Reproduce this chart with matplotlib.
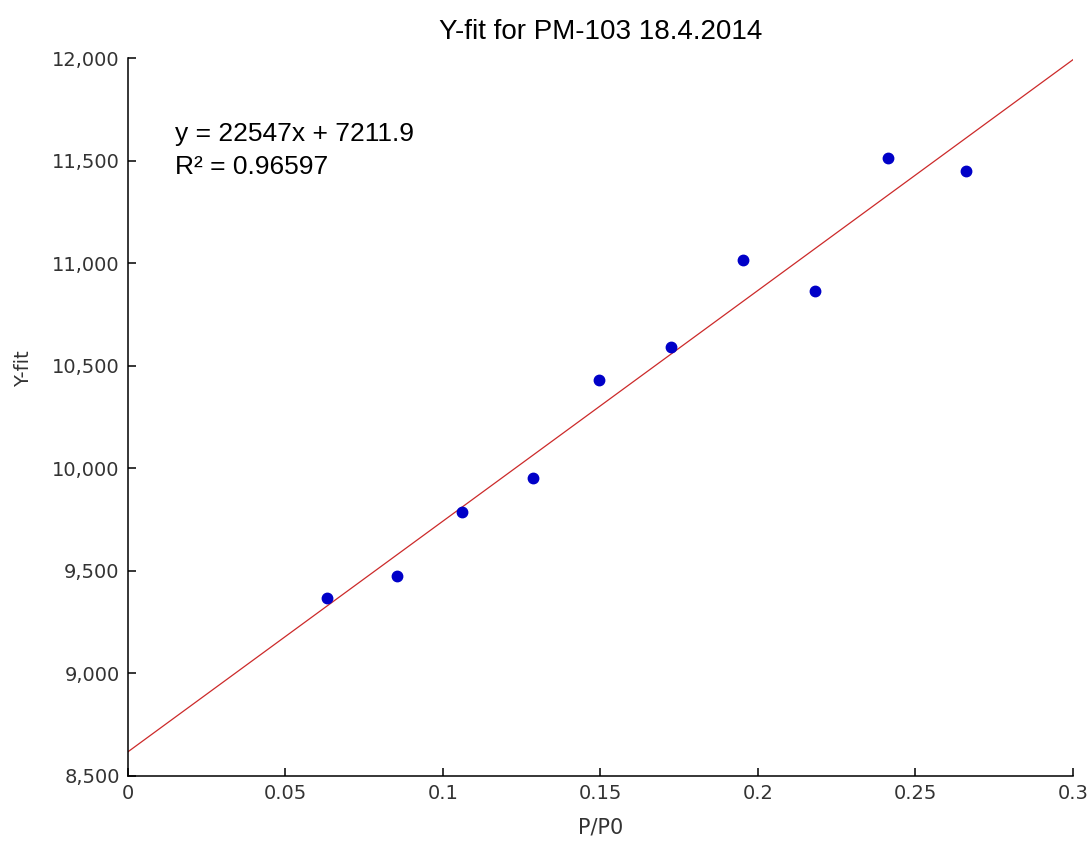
import matplotlib
matplotlib.use("Agg")
import matplotlib.pyplot as plt
from matplotlib.ticker import FuncFormatter

# data
p_p0 = [0.0632, 0.0853, 0.1059, 0.1287, 0.1495, 0.1723, 0.1951, 0.2181, 0.2412, 0.2660]
y_fit = [9369, 9475, 9788, 9954, 10430, 10590, 11014, 10864, 11513, 11451]

# red trend line as drawn (end points)
line_x = [0.0, 0.3]
line_y = [8618, 11992]

x_ticks = [0, 0.05, 0.1, 0.15, 0.2, 0.25, 0.3]
y_ticks = [8500, 9000, 9500, 10000, 10500, 11000, 11500, 12000]

eq_text = "y = 22547x + 7211.9"
r2_text = "R\u00b2 = 0.96597"

fig = plt.figure(figsize=(10.92, 8.41), dpi=100)
ax = fig.add_axes([0.1172, 0.0773, 0.8654, 0.8537])

ax.plot(line_x, line_y, color="#cc2a2a", lw=0.9, zorder=2)
ax.plot(p_p0, y_fit, "o", color="#0000c8", markersize=7.5, zorder=3)

ax.set_xlim(0, 0.3)
ax.set_ylim(8500, 12000)
ax.set_xticks(x_ticks)
ax.set_yticks(y_ticks)
ax.xaxis.set_major_formatter(FuncFormatter(lambda v, p: "0" if v == 0 else f"{v:g}"))
ax.yaxis.set_major_formatter(FuncFormatter(lambda v, p: f"{int(v):,}"))

for s in ["top", "right"]:
    ax.spines[s].set_visible(False)
for s in ["left", "bottom"]:
    ax.spines[s].set_linewidth(1.1)

ax.tick_params(direction="in", length=6, width=1.1, labelsize=14,
               labelcolor="#333333", pad=6)

ax.set_xlabel("P/P0", fontsize=15, color="#333333", labelpad=10)
ax.set_ylabel("Y-fit", fontsize=14, color="#333333")
ax.yaxis.set_label_coords(-0.1005, 0.568)
ax.set_title("Y-fit for PM-103 18.4.2014", fontsize=20,
             fontfamily="Liberation Sans", pad=14)

ax.text(0.015, 11596, eq_text, fontsize=19, fontfamily="Liberation Sans")
ax.text(0.015, 11435, r2_text, fontsize=19, fontfamily="Liberation Sans")

fig.savefig("out.png", dpi=100)
